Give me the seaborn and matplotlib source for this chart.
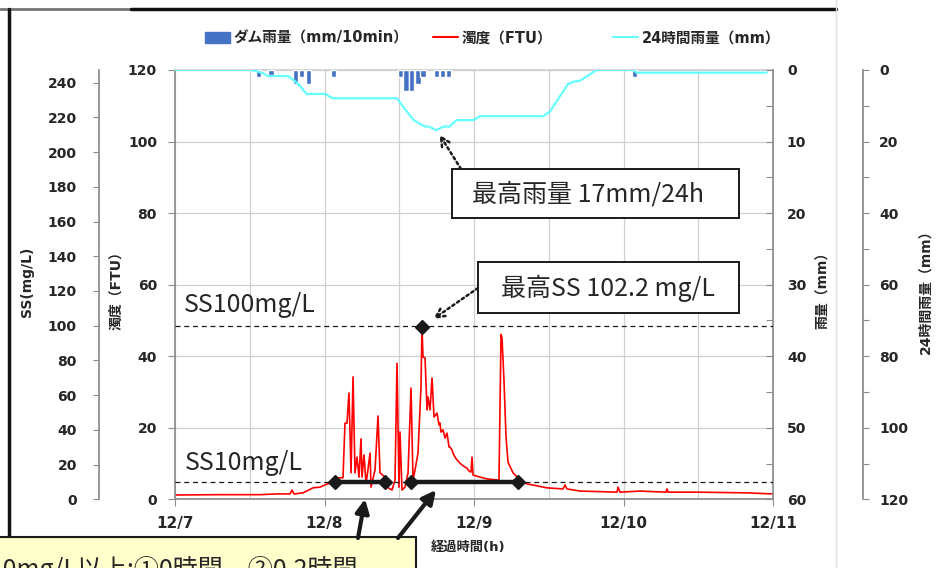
import numpy as np
import pandas as pd
import matplotlib.pyplot as plt
from matplotlib.patches import Rectangle, Patch, FancyArrowPatch
from matplotlib.lines import Line2D
import seaborn as sns

sns.set_theme(style="white")
plt.rcParams['font.family'] = ['DejaVu Sans', 'Noto Sans CJK JP']
plt.rcParams['font.weight'] = 'bold'
plt.rcParams['axes.labelweight'] = 'bold'

# elapsed hours from 12/7 0:00
turb_hours = [0.0, 7.22, 13.64, 16.38, 18.46, 18.78, 19.10, 20.55, 22.15, 23.28, 24.40,
              25.69, 26.01, 26.97, 27.29, 27.61, 27.93, 28.26, 28.58, 28.90, 29.22,
              29.54, 29.86, 30.02, 30.34, 30.66, 30.82, 31.31, 31.47, 32.11, 32.59,
              32.91, 33.71, 34.03, 34.84, 35.32, 35.64, 35.96, 36.12, 36.44, 36.92,
              37.41, 37.89, 38.21, 38.53, 39.01, 39.49, 39.65, 39.81, 40.14, 40.46,
              40.62, 40.94, 41.26, 41.58, 42.06, 42.38, 42.54, 42.70, 43.02, 43.35,
              43.67, 43.99, 44.15, 44.47, 44.63, 44.95, 45.27, 45.75, 46.08, 46.56,
              46.88, 47.20, 47.52, 47.68, 47.84, 48.96, 50.09, 51.69, 52.01, 52.34,
              52.50, 52.82, 53.14, 53.46, 54.26, 55.39, 56.51, 57.47, 59.72, 62.29,
              62.61, 62.93, 65.02, 70.96, 71.12, 71.44, 74.65, 78.83, 78.99, 79.15,
              83.80, 91.83, 96.0]
turb_ftu = [1.2, 1.3, 1.3, 1.5, 1.5, 2.6, 1.5, 1.8, 3.2, 3.4, 4.3,
            4.6, 6.0, 6.0, 21.3, 21.3, 29.7, 7.4, 34.2, 7.4, 11.8,
            6.2, 16.9, 6.2, 12.4, 4.6, 6.2, 12.9, 3.4, 8.2, 23.3,
            7.4, 6.2, 3.4, 2.6, 5.4, 38.0, 3.4, 18.8, 2.6, 3.4,
            7.4, 31.1, 5.4, 8.2, 12.9, 31.4, 48.2, 39.8, 39.5, 25.0,
            28.6, 25.0, 33.9, 23.0, 24.1, 20.8, 21.3, 18.8, 19.4, 17.1,
            18.5, 14.6, 14.6, 13.8, 12.9, 11.8, 11.0, 10.1, 9.6, 9.0,
            8.7, 7.9, 7.6, 11.8, 6.8, 6.2, 5.7, 5.4, 5.4, 46.1,
            45.0, 33.0, 17.4, 10.4, 7.4, 5.4, 4.3, 4.0, 3.2, 2.9,
            4.0, 2.9, 2.3, 2.0, 3.4, 2.0, 2.3, 2.0, 2.9, 2.0,
            2.0, 1.8, 1.5]

rain24_hours = [0.0, 12.3, 13.9, 15.0, 18.2, 19.8, 21.1, 24.1, 25.3, 35.6, 38.3, 40.1,
                40.7, 42.0, 43.1, 44.1, 45.2, 47.9, 49.0, 59.1, 60.2, 63.1, 63.9, 65.0,
                67.7, 73.6, 74.1, 95.0]
rain24_mm = [0, 0, 0.75, 1.7, 1.7, 3.9, 6.7, 6.7, 7.9, 7.9, 14.0, 15.8,
             15.8, 16.8, 15.8, 15.8, 14.0, 14.0, 12.9, 12.9, 11.6, 3.9, 3.3, 3.0,
             0, 0, 0.75, 0.75]

rain_hours = [13.4, 15.4, 19.3, 20.3, 21.4, 25.4, 36.2, 37.1, 38.0, 39.0, 39.8, 42.0, 42.9, 43.9, 73.8]
rain_mm = [1, 0.7, 2, 1, 2, 1, 1, 3, 3, 2, 1, 1, 1, 1, 1]

day_ticks = [0, 24, 48, 72, 96]
day_labels = ['12/7', '12/8', '12/9', '12/10', '12/11']
ss_levels = [100, 10]
exceed_start = [25.7, 37.9]
exceed_end = [33.7, 55.1]

turb = pd.DataFrame({'h': turb_hours, 'ftu': turb_ftu})
r24 = pd.DataFrame({'h': rain24_hours, 'mm': rain24_mm})

W, H = 936, 568
def fx(px):
    return px / W
def fy(py):
    return 1 - py / H

gray = '#8c8c8c'
fig = plt.figure(figsize=(W / 100, H / 100), dpi=100)
ax = fig.add_axes([fx(175), fy(499.3), (773 - 175) / W, (499.3 - 70) / H])
ax_rain = ax.twinx()
ax24 = ax.twinx()
ax_ss = ax.twinx()

# turbidity
sns.lineplot(data=turb, x='h', y='ftu', ax=ax, color='#ff0000', lw=1.2, legend=False)
ip = int(np.argmax(turb_ftu))
ax.plot(turb_hours[ip], turb_ftu[ip], 'D', color='k', ms=7, zorder=5)
ax.set_ylim(0, 120)
ax.set_yticks(range(0, 121, 20))
ax.set_xlim(0, 96)
ax.set_xticks(day_ticks)
ax.set_xticklabels(day_labels, fontsize=11)
ax.set_xticks([12, 36, 60, 84], minor=True)
ax.grid(True, which='both', axis='x', color='#d0d0d0', lw=0.9)
ax.grid(True, which='major', axis='y', color='#d0d0d0', lw=0.9)
ax.tick_params(axis='y', direction='out', length=5, width=0.8, color=gray, pad=8, labelsize=10, left=True)
ax.tick_params(axis='x', which='major', direction='out', length=5, width=0.8, color=gray, pad=7, bottom=True)
ax.tick_params(axis='x', which='minor', length=0)
for s in ['left', 'bottom']:
    ax.spines[s].set_color(gray)
ax.spines['top'].set_color('#d0d0d0')
ax.spines['right'].set_visible(False)
ax.set_ylabel('濁度（FTU）', fontsize=10)
ax.yaxis.set_label_coords((123 - 175) / 598, 0.495)
ax.set_xlabel('経過時間(h)', fontsize=9.5)
ax.xaxis.set_label_coords((468 - 175) / 598, (499.3 - 541) / 429.3)

# 10 min rainfall
ax_rain.bar(rain_hours, rain_mm, width=0.85, color='#4472C4')
ax_rain.set_ylim(60, 0)
ax_rain.set_yticks(range(0, 61, 10))
ax_rain.set_yticks(range(5, 60, 10), minor=True)
ax_rain.tick_params(axis='y', which='both', direction='in', length=5, width=0.8, color=gray, pad=10, labelsize=10, right=True)
ax_rain.set_ylabel('雨量（mm）', fontsize=10)
ax_rain.yaxis.set_label_coords((816 - 175) / 598, 0.495)

# 24 h rainfall
sns.lineplot(data=r24, x='h', y='mm', ax=ax24, color='#66ffff', lw=1.6, legend=False)
ax24.spines['right'].set_position(('axes', (862.7 - 175) / 598))
ax24.set_ylim(120, 0)
ax24.set_yticks(range(0, 121, 20))
ax24.set_yticks(range(10, 120, 20), minor=True)
ax24.tick_params(axis='y', which='both', direction='out', length=4, width=0.8, color=gray, pad=8, labelsize=10, right=True)
ax24.set_ylabel('24時間雨量（mm）', fontsize=10)
ax24.yaxis.set_label_coords((918 - 175) / 598, 0.4925)

# SS axis
ax_ss.yaxis.tick_left()
ax_ss.yaxis.set_label_position('left')
ax_ss.spines['left'].set_visible(True)
ax_ss.spines['left'].set_position(('axes', (99 - 175) / 598))
ax_ss.set_ylim(0, 247.3)
ax_ss.set_yticks(range(0, 241, 20))
ax_ss.tick_params(axis='y', direction='out', length=4, width=0.8, color=gray, pad=12, labelsize=10, left=True)
ax_ss.set_ylabel('SS(mg/L)', fontsize=10)
ax_ss.yaxis.set_label_coords((34 - 175) / 598, 0.506)
for v in ss_levels:
    ax_ss.axhline(v, color='k', ls=(0, (4, 3)), lw=0.9)
for s, e in zip(exceed_start, exceed_end):
    ax_ss.plot([s, e], [10, 10], color='k', lw=3.2, marker='D', ms=7, solid_capstyle='butt')

for a in [ax_rain, ax24, ax_ss]:
    for s in ['top', 'bottom', 'left', 'right']:
        a.spines[s].set_color(gray)
    a.spines['top'].set_visible(False)
    a.spines['bottom'].set_visible(False)
    a.set_xlim(0, 96)
ax_rain.spines['left'].set_visible(False)
ax24.spines['left'].set_visible(False)
ax_ss.spines['right'].set_visible(False)

# threshold texts
fig.text(fx(184), fy(305), 'SS100mg/L', fontsize=18, fontweight='normal', family='Noto Sans CJK JP', va='center')
fig.text(fx(185), fy(463), 'SS10mg/L', fontsize=18, fontweight='normal', family='Noto Sans CJK JP', va='center')

# annotation boxes
fig.add_artist(Rectangle((fx(452), fy(218)), (739 - 452) / W, (218 - 169) / H, transform=fig.transFigure,
                         fc='white', ec='k', lw=1.4, zorder=3))
fig.text(fx(588), fy(194), '最高雨量 17mm/24h', fontsize=18, fontweight='normal',
         family='Noto Sans CJK JP', ha='center', va='center', zorder=4)
im = int(np.argmax(rain24_mm))
ax24.annotate('', xy=(rain24_hours[im], rain24_mm[im]), xytext=(fx(461), fy(169)), textcoords='figure fraction',
              arrowprops=dict(arrowstyle='->', color='k', lw=1.8, ls=(0, (1, 1.3)), shrinkA=0, shrinkB=4,
                              mutation_scale=16))

fig.add_artist(Rectangle((fx(478), fy(313)), (739 - 478) / W, (313 - 262) / H, transform=fig.transFigure,
                         fc='white', ec='k', lw=1.4, zorder=3))
fig.text(fx(608), fy(288), '最高SS 102.2 mg/L', fontsize=18, fontweight='normal',
         family='Noto Sans CJK JP', ha='center', va='center', zorder=4)
ax.annotate('', xy=(turb_hours[ip], turb_ftu[ip]), xytext=(fx(478), fy(288)), textcoords='figure fraction',
            arrowprops=dict(arrowstyle='->', color='k', lw=1.8, ls=(0, (1, 1.3)), shrinkA=0, shrinkB=10,
                            mutation_scale=16))

# legend, one entry per block as in the original
handles = [Patch(color='#4472C4'), Line2D([], [], color='#ff0000', lw=1.5), Line2D([], [], color='#66ffff', lw=1.5)]
labels = ['ダム雨量（mm/10min）', '濁度（FTU）', '24時間雨量（mm）']
for h, lab, xpos in zip(handles, labels, [205, 433, 613]):
    fig.legend([h], [lab], loc='center left', bbox_to_anchor=(fx(xpos), fy(38)), frameon=False,
               prop={'size': 10.5, 'weight': 'bold'}, handlelength=1.7, handletextpad=0.25,
               borderpad=0, borderaxespad=0)

# frame of the screenshot
fig.add_artist(Line2D([0, fx(131)], [fy(9), fy(9)], transform=fig.transFigure, color='#777777', lw=2))
fig.add_artist(Line2D([fx(131), fx(836)], [fy(9), fy(9)], transform=fig.transFigure, color='#111111', lw=2.5))
fig.add_artist(Line2D([fx(9), fx(9)], [fy(9), fy(537)], transform=fig.transFigure, color='#111111', lw=2.5))
fig.add_artist(Line2D([fx(836), fx(836)], [0, 1], transform=fig.transFigure, color='#e0e0e0', lw=1))

# note box at the bottom
fig.add_artist(Rectangle((fx(-5), fy(590)), 421 / W, (590 - 537) / H, transform=fig.transFigure,
                         fc='#ffffcc', ec='k', lw=1.5, zorder=3))
fig.text(fx(-40), fy(569), 'SS10mg/L以上:①0時間、②0.2時間', fontsize=18, fontweight='normal',
         family='Noto Sans CJK JP', ha='left', va='center', zorder=4)
for tail, tip in [((358, 538), (365, 499)), ((398, 538), (436, 490))]:
    fig.add_artist(FancyArrowPatch((fx(tail[0]), fy(tail[1])), (fx(tip[0]), fy(tip[1])),
                                   transform=fig.transFigure, arrowstyle='-|>', mutation_scale=20,
                                   lw=3, color='k', shrinkA=0, shrinkB=0, zorder=5))

fig.savefig('out.png', dpi=100)
